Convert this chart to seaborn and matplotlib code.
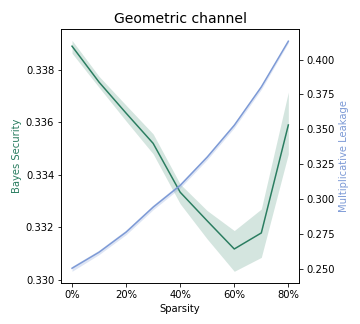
import numpy as np
import pandas as pd
import seaborn as sns
import matplotlib.pyplot as plt
from matplotlib.ticker import PercentFormatter

sparsity = [0.0, 0.1, 0.2, 0.3, 0.4, 0.5, 0.6, 0.7, 0.8]

bayes_security = [0.33890, 0.33753, 0.33635, 0.33520, 0.33334, 0.33225, 0.33118, 0.33179, 0.33590]
bayes_lo = [0.33863, 0.33733, 0.33605, 0.33480, 0.33290, 0.33156, 0.33033, 0.33086, 0.33480]
bayes_hi = [0.33912, 0.33775, 0.33665, 0.33556, 0.33365, 0.33264, 0.33188, 0.33270, 0.33715]

mult_leakage = [0.2504, 0.2619, 0.2763, 0.2942, 0.3098, 0.3301, 0.3529, 0.3804, 0.4132]
mult_lo = [0.2482, 0.2602, 0.2745, 0.2924, 0.3080, 0.3283, 0.3511, 0.3786, 0.4120]
mult_hi = [0.2518, 0.2634, 0.2779, 0.2958, 0.3114, 0.3317, 0.3545, 0.3820, 0.4138]

GREEN = "#2a7d60"
BLUE = "#7d9ad6"

df = pd.DataFrame({"Sparsity": sparsity, "bs": bayes_security, "ml": mult_leakage})

fig, ax = plt.subplots(figsize=(5, 4.5), dpi=72)
fig.subplots_adjust(left=0.170, right=0.831, top=0.911, bottom=0.127)

sns.lineplot(data=df, x="Sparsity", y="bs", color=GREEN, ax=ax, errorbar=None)
ax.fill_between(sparsity, bayes_lo, bayes_hi, color=GREEN, alpha=0.2, linewidth=0)
ax.set_ylabel("Bayes Security", color=GREEN)
ax.set_xlabel("Sparsity")

ax2 = ax.twinx()
sns.lineplot(data=df, x="Sparsity", y="ml", color=BLUE, ax=ax2, errorbar=None)
ax2.fill_between(sparsity, mult_lo, mult_hi, color=BLUE, alpha=0.25, linewidth=0)
ax2.set_ylabel("Multiplicative Leakage", color=BLUE)

ax.xaxis.set_major_formatter(PercentFormatter(xmax=1, decimals=0))
ax.set_xticks([0, 0.2, 0.4, 0.6, 0.8])
ax.set_title("Geometric channel", fontsize=14)

plt.savefig("out.png")
